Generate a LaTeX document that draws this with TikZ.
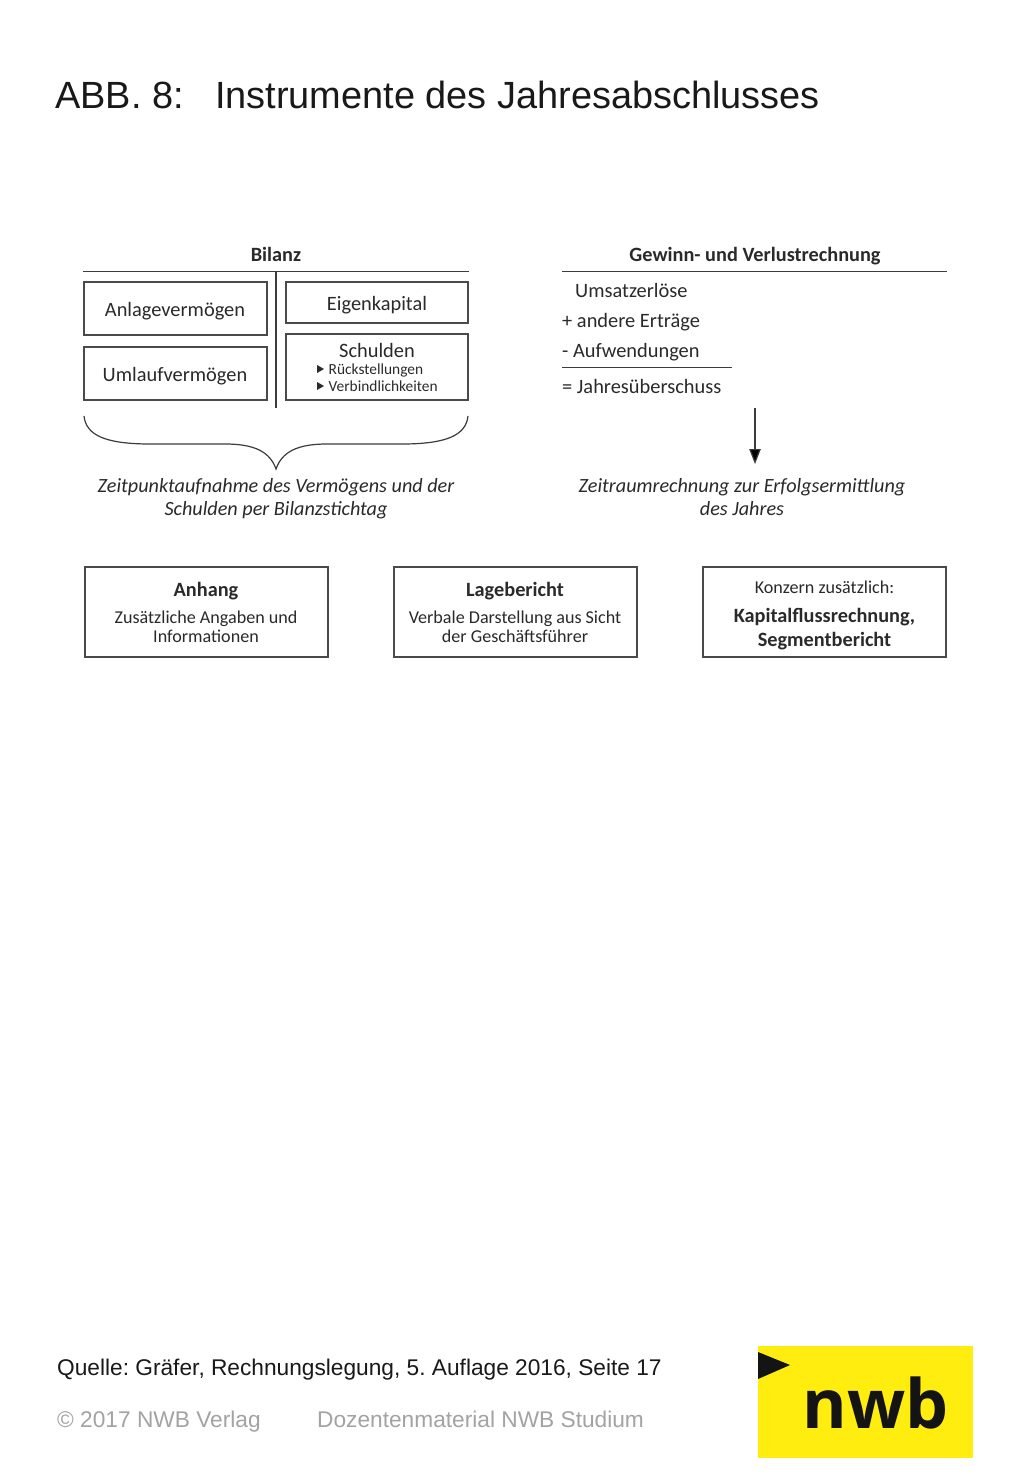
\documentclass[tikz,border=0pt]{standalone}
\usepackage{fontspec}
\setmainfont{Liberation Sans}
\newfontfamily\diagfont{Carlito}
\newfontfamily\logofont{Open Sans}
\usetikzlibrary{arrows.meta}
\definecolor{diagink}{HTML}{2A2A2A}
\definecolor{boxline}{HTML}{3C3C3C}
\definecolor{softline}{HTML}{4A4A4A}
\definecolor{footgray}{HTML}{A3A3A3}
\definecolor{nwbyellow}{HTML}{FFED10}
\newcommand{\fs}[1]{\fontsize{#1pt}{#1pt}\selectfont}
\tikzset{
  x=1pt,y=-1pt,
  plainbox/.style={draw=softline,line width=1.2pt,fill=white},
  rulestyle/.style={draw=boxline,line width=1.2pt},
  dtext/.style={font=\diagfont\fs{20.4},text=diagink,inner sep=0pt},
  itext/.style={font=\diagfont\itshape\fs{20.2},text=diagink,inner sep=0pt,align=center},
  ltext/.style={font=\diagfont\fs{20.4},text=diagink,inner sep=0pt,anchor=base west},
  boldhead/.style={font=\diagfont\bfseries\fs{20.3},text=diagink,inner sep=0pt},
  smalltext/.style={font=\diagfont\fs{18.1},text=diagink,inner sep=0pt,align=center},
  titletext/.style={font=\fs{37.9},inner sep=0pt,anchor=base west,text=black!90},
  foot/.style={font=\frenchspacing\fs{22.7},inner sep=0pt,anchor=base west},
}
\begin{document}
\begin{tikzpicture}
\useasboundingbox (0,0) rectangle (1024,1479);
\fill[white] (0,0) rectangle (1024,1479);
\node[titletext] (title) at (55,109) {ABB. 8:};
\node[titletext] (titleb) at (215,109) {Instrumente des Jahresabschlusses};

% Bilanz
\node[boldhead] (bil) at (276,254.5) {Bilanz};
\coordinate (bl) at (83,271.5); \coordinate (br) at (469,271.5);
\draw[rulestyle] (bl) -- (br);
\coordinate (vt) at (276,271.5); \coordinate (vb) at (276,408);
\draw[rulestyle] (vt) -- (vb);
\node[plainbox,minimum width=183pt,minimum height=53pt] (av) at (175.5,308.5) {};
\node[dtext] at (175,311.5) {Anlagevermögen};
\node[plainbox,minimum width=183pt,minimum height=53pt] (uv) at (175.5,373.5) {};
\node[dtext] at (175,376) {Umlaufvermögen};
\node[plainbox,minimum width=182pt,minimum height=41pt] (ek) at (377,302.5) {};
\node[dtext] at (377,305) {Eigenkapital};
\node[plainbox,minimum width=182pt,minimum height=66pt] (sc) at (377,367) {};
\node[dtext] (sch) at (377,350) {Schulden};
\node[dtext,font=\diagfont\fs{15.4},anchor=west] (rs) at (328.5,370) {Rückstellungen};
\node[dtext,font=\diagfont\fs{15.4},anchor=west] (vb2) at (328.5,386.5) {Verbindlichkeiten};
\fill[diagink] (317,365) -- (324,369) -- (317,373) -- cycle;
\fill[diagink] (317,382) -- (324,386) -- (317,390) -- cycle;
% brace
\coordinate (bs) at (84,416); \coordinate (bm) at (276,469); \coordinate (be) at (468,416);
\draw[draw=boxline,line width=1.2pt] (bs) .. controls (86,435) and (105,444) .. (150,444)
  -- (225,444) .. controls (255,444) and (270,452) .. (bm)
  .. controls (282,452) and (297,444) .. (327,444)
  -- (402,444) .. controls (447,444) and (466,435) .. (be);
\node[itext] (zp) at (276,498.5) {Zeitpunktaufnahme des Vermögens und der\\[2.3pt]Schulden per Bilanzstichtag};

% GuV
\node[boldhead] (guv) at (755,256) {Gewinn- und Verlustrechnung};
\coordinate (gl) at (562,271.5); \coordinate (gr) at (947,271.5);
\draw[rulestyle] (gl) -- (gr);
\node[ltext] (g1) at (575,297) {Umsatzerlöse};
\node[ltext] (g2) at (562,327) {+ andere Erträge};
\node[ltext] (g3) at (562,357) {- Aufwendungen};
\coordinate (sl) at (562,367.5); \coordinate (sr) at (732,367.5);
\draw[rulestyle] (sl) -- (sr);
\node[ltext] (g4) at (562,393) {= Jahresüberschuss};
\coordinate (at) at (755,408); \coordinate (ab) at (755,464);
\draw[rulestyle,-{Triangle[length=15pt,width=11.5pt,fill=black]}] (at) -- (ab);
\node[itext] (zr) at (742,497) {Zeitraumrechnung zur Erfolgsermittlung\\[2.3pt]des Jahres};

% Lower boxes
\node[plainbox,minimum width=243pt,minimum height=90pt] (anh) at (206.5,612) {};
\node[boldhead] at (206,591) {Anhang};
\node[smalltext] at (206,627) {Zusätzliche Angaben und\\[1pt]Informationen};
\node[plainbox,minimum width=243pt,minimum height=90pt] (lag) at (515.5,612) {};
\node[boldhead] at (515,591) {Lagebericht};
\node[smalltext] at (515,627) {Verbale Darstellung aus Sicht\\[1pt]der Geschäftsführer};
\node[plainbox,minimum width=243pt,minimum height=90pt] (kon) at (824.5,612) {};
\node[smalltext] at (824.5,587) {Konzern zusätzlich:};
\node[boldhead,align=center] at (824.5,629) {Kapitalflussrechnung,\\[3pt]Segmentbericht};

% Footer
\node[foot,text=black!90] (q) at (57,1375.5) {Quelle: Gräfer, Rechnungslegung, 5. Auflage 2016, Seite 17};
\node[foot,text=footgray] (c) at (57,1427.5) {© 2017 NWB Verlag};
\node[foot,text=footgray] (d) at (317,1427.5) {Dozentenmaterial NWB Studium};

% Logo
\fill[nwbyellow] (758,1346) rectangle (973,1458);
\fill[black!92] (758,1352) -- (790,1365) -- (758,1379) -- cycle;
\node[inner sep=0pt,anchor=base,font=\logofont\bfseries\fs{68},text=black!92] (nwb) at (875.5,1428) {nwb};
\end{tikzpicture}
\end{document}
